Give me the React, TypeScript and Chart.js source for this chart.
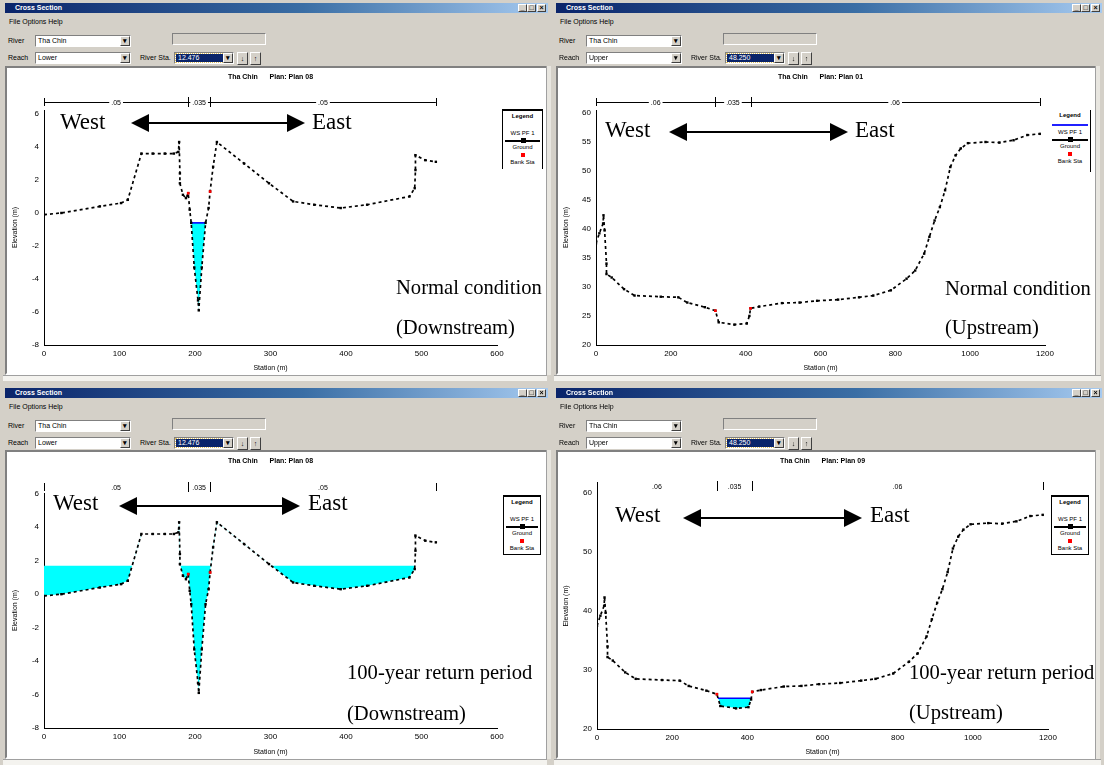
import React, { useEffect, useRef } from "react";
import { Chart, registerables } from "chart.js";

Chart.register(...registerables);

const FONT = '"Liberation Sans", Arial, sans-serif';
const SERIF = '"Liberation Serif", "Times New Roman", serif';

// ---------------- DATA ----------------
// Downstream cross-section: station (m) / elevation (m)
const downGroundStation = [0, 23, 74, 102, 111, 129, 144, 160, 172, 178, 179, 180, 180, 184, 188, 191, 193, 195, 199, 204, 205, 209, 214, 218, 220, 224, 229, 265, 298, 330, 358, 393, 428, 484, 491, 492, 492, 505, 519];
const downGroundElevation = [-0.1, 0.0, 0.4, 0.6, 0.8, 3.6, 3.6, 3.6, 3.6, 3.7, 4.3, 2.4, 1.8, 1.1, 0.9, 1.2, 0.2, -0.6, -3.3, -5.3, -5.9, -3.3, -0.6, 0.3, 1.3, 2.8, 4.3, 3.0, 1.8, 0.7, 0.5, 0.3, 0.5, 1.0, 1.5, 2.6, 3.5, 3.2, 3.1];
const downBankStation = [191, 220];
const downBankElevation = [1.2, 1.3];
const downNormalWsStation = [195, 214];
const downNormalWsElevation = [-0.6, -0.6];
const down100WsStation = [0, 491];
const down100WsElevation = [1.7, 1.7];
const downNStations = [0, 191, 220, 519];
const downNLabels = [".05", ".035", ".05"];

// Upstream cross-section
const upGroundStation = [0, 9, 19, 20, 23, 28, 28, 42, 75, 103, 173, 220, 244, 291, 319, 328, 370, 403, 410, 413, 436, 497, 544, 591, 647, 703, 741, 788, 830, 853, 877, 891, 905, 919, 933, 947, 961, 975, 994, 1041, 1078, 1116, 1153, 1186];
const upGroundElevation = [37.5, 39.2, 40.9, 42.3, 39.7, 34.0, 32.2, 31.6, 29.6, 28.5, 28.3, 28.2, 27.3, 26.5, 25.9, 23.9, 23.5, 23.7, 25.0, 26.3, 26.6, 27.2, 27.3, 27.6, 27.8, 28.2, 28.5, 29.4, 31.4, 32.8, 35.7, 38.6, 41.4, 43.7, 46.6, 50.6, 52.6, 53.8, 54.7, 54.9, 54.8, 55.2, 56.1, 56.3];
const upBankStation = [319, 413];
const upBankElevation = [25.9, 26.3];
const up100WsStation = [322, 410.5];
const up100WsElevation = [25.2, 25.2];
const upNStations = [0, 319, 413, 1186];
const upNLabels = [".06", ".035", ".06"];

// Tick settings
const downXTicks = { min: 0, max: 600, step: 100 };
const upXTicks = { min: 0, max: 1200, step: 200 };

// ---------------- PANELS ----------------
type Panel = any;

const panels: Panel[] = [
  {
    id: "tl",
    win: { x: 0, y: 0, w: 550, h: 381 },
    canvas: { x: 7, y: 68, w: 539, h: 305 },
    plot: { l: 44, r: 497, t: 110, b: 345 },
    xt: downXTicks, yt: { min: -8, max: 6.24, step: 2 },
    gs: downGroundStation, ge: downGroundElevation,
    bs: downBankStation, be: downBankElevation,
    ws: downNormalWsStation, we: downNormalWsElevation, wsLine: "#0000ff", wsWidth: 1.6,
    nb: { y: 102, bounds: downNStations, labels: downNLabels, line: true },
    xDash: [1, 5], yDash: [1, 5],
    title: "Tha Chin      Plan: Plan 08",
    river: "Tha Chin", reach: "Lower", sta: "12.476",
    west: { wx: 60, cy: 122, al: 131, ar: 305, ay: 123, ex: 312 },
    cond: { x: 396, lines: ["Normal condition", "(Downstream)"], ys: [287, 327] },
    legend: { x: 502, y: 109, w: 41, h: 60, blue: false, borders: "tlr" },
  },
  {
    id: "tr",
    win: { x: 551, y: 0, w: 553, h: 381 },
    canvas: { x: 558, y: 68, w: 537, h: 305 },
    plot: { l: 596, r: 1045, t: 110, b: 345 },
    xt: upXTicks, yt: { min: 20, max: 60.4, step: 5 },
    gs: upGroundStation, ge: upGroundElevation,
    bs: upBankStation, be: upBankElevation,
    ws: null, we: null,
    nb: { y: 102, bounds: upNStations, labels: upNLabels, line: true },
    xDash: [1, 5], yDash: [1, 5],
    title: "Tha Chin      Plan: Plan 01",
    river: "Tha Chin", reach: "Upper", sta: "48.250",
    west: { wx: 605, cy: 130, al: 669, ar: 848, ay: 132, ex: 855 },
    cond: { x: 945, lines: ["Normal condition", "(Upstream)"], ys: [288, 327] },
    legend: { x: 1050, y: 110, w: 41, h: 62, blue: true, borders: "r" },
  },
  {
    id: "bl",
    win: { x: 0, y: 385, w: 550, h: 380 },
    canvas: { x: 7, y: 452, w: 539, h: 305 },
    plot: { l: 44, r: 497, t: 493, b: 728 },
    xt: downXTicks, yt: { min: -8, max: 6.05, step: 2 },
    gs: downGroundStation, ge: downGroundElevation,
    bs: downBankStation, be: downBankElevation,
    ws: down100WsStation, we: down100WsElevation, wsLine: "rgba(0,0,0,0)", wsWidth: 0,
    nb: { y: 487, bounds: downNStations, labels: downNLabels, line: false },
    xDash: [], yDash: [1, 5],
    title: "Tha Chin      Plan: Plan 08",
    river: "Tha Chin", reach: "Lower", sta: "12.476",
    west: { wx: 53, cy: 503, al: 119, ar: 300, ay: 506, ex: 308 },
    cond: { x: 347, lines: ["100-year return period", "(Downstream)"], ys: [672, 713] },
    legend: { x: 503, y: 495, w: 38, h: 60, blue: false, borders: "tlrb" },
  },
  {
    id: "br",
    win: { x: 551, y: 385, w: 553, h: 380 },
    canvas: { x: 558, y: 452, w: 537, h: 305 },
    plot: { l: 597, r: 1048, t: 483, b: 729 },
    xt: upXTicks, yt: { min: 20, max: 61.7, step: 10 },
    gs: upGroundStation, ge: upGroundElevation,
    bs: upBankStation, be: upBankElevation,
    ws: up100WsStation, we: up100WsElevation, wsLine: "#0000ff", wsWidth: 1.6,
    nb: { y: 486, bounds: upNStations, labels: upNLabels, line: false },
    xDash: [], yDash: [],
    title: "Tha Chin      Plan: Plan 09",
    river: "Tha Chin", reach: "Upper", sta: "48.250",
    west: { wx: 615, cy: 515, al: 683, ar: 862, ay: 518, ex: 870 },
    cond: { x: 909, lines: ["100-year return period", "(Upstream)"], ys: [672, 712] },
    legend: { x: 1051, y: 495, w: 38, h: 60, blue: false, borders: "tlrb" },
  },
];

// ---------------- CHART ----------------
function pts(xs: number[], ys: number[]) {
  return xs.map((x, i) => ({ x, y: ys[i] }));
}

const nBarPlugin = {
  id: "nbar",
  afterDraw(chart: any, _args: any, opts: any) {
    const { ctx } = chart;
    const xs = chart.scales.x;
    const y = opts.y;
    const b: number[] = opts.bounds;
    ctx.save();
    ctx.strokeStyle = "#000";
    ctx.lineWidth = 1;
    if (opts.line) {
      ctx.beginPath();
      ctx.moveTo(xs.getPixelForValue(b[0]), y + 0.5);
      ctx.lineTo(xs.getPixelForValue(b[b.length - 1]), y + 0.5);
      ctx.stroke();
    }
    b.forEach((v, i) => {
      const px = Math.round(xs.getPixelForValue(v)) + 0.5;
      const h = i === 0 || i === b.length - 1 ? 4 : 5;
      ctx.beginPath();
      ctx.moveTo(px, y - h);
      ctx.lineTo(px, y + h);
      ctx.stroke();
    });
    ctx.font = "7px " + FONT;
    ctx.textAlign = "center";
    ctx.textBaseline = "middle";
    (opts.labels as string[]).forEach((l, i) => {
      const px = (xs.getPixelForValue(b[i]) + xs.getPixelForValue(b[i + 1])) / 2;
      const w = ctx.measureText(l).width + 4;
      if (opts.line) {
        ctx.fillStyle = "#fff";
        ctx.fillRect(px - w / 2, y - 4, w, 9);
      }
      ctx.fillStyle = "#000";
      ctx.fillText(l, px, y + 1);
    });
    ctx.restore();
  },
};

function buildConfig(p: Panel): any {
  const c = p.canvas;
  const pl = p.plot;
  const padTop = pl.t - c.y;
  const padRight = c.x + c.w - pl.r;
  const yWidth = pl.l - c.x;
  const xHeight = c.y + c.h - pl.b;

  const datasets: any[] = [
    {
      label: "Ground",
      data: pts(p.gs, p.ge),
      borderColor: "#000",
      backgroundColor: "#000",
      borderWidth: 1.7,
      borderDash: [3, 3],
      pointRadius: 1.7,
      pointStyle: "rect",
      pointBackgroundColor: "#000",
      pointBorderColor: "#000",
      pointBorderWidth: 0,
      fill: false,
      tension: 0,
      order: 1,
    },
    {
      label: "Bank Sta",
      data: pts(p.bs, p.be),
      showLine: false,
      pointRadius: 1.9,
      pointStyle: "rect",
      pointBackgroundColor: "#ff0000",
      pointBorderColor: "#ff0000",
      pointBorderWidth: 0,
      order: 0,
    },
  ];
  if (p.ws) {
    datasets.push({
      label: "WS PF 1",
      data: pts(p.ws, p.we),
      borderColor: p.wsLine,
      borderWidth: p.wsWidth,
      pointRadius: 0,
      tension: 0,
      fill: { target: 0, above: "#00ffff", below: "rgba(0,0,0,0)" },
      order: 2,
    });
  }

  const tickFont = { size: 8, family: FONT };
  const titleFont = { size: 7, family: FONT };

  return {
    type: "line",
    data: { datasets },
    plugins: [nBarPlugin],
    options: {
      responsive: false,
      animation: false,
      events: [],
      layout: { padding: { left: 0, top: padTop, right: padRight, bottom: 0 } },
      plugins: {
        legend: { display: false },
        tooltip: { enabled: false },
        nbar: { y: p.nb.y - c.y, bounds: p.nb.bounds, labels: p.nb.labels, line: p.nb.line },
      },
      scales: {
        x: {
          type: "linear",
          min: p.xt.min,
          max: p.xt.max,
          grid: { display: false, drawTicks: false },
          border: { display: true, color: "#000", width: 1, dash: p.xDash },
          ticks: { stepSize: p.xt.step, font: tickFont, color: "#000", padding: 4, maxRotation: 0, includeBounds: false, callback: (v: any) => String(v) },
          title: { display: true, text: "Station (m)", font: titleFont, color: "#000", padding: { top: 0, bottom: 1 } },
          afterFit: (s: any) => {
            s.height = xHeight;
            s.paddingLeft = 0;
            s.paddingRight = 0;
          },
        },
        y: {
          type: "linear",
          min: p.yt.min,
          max: p.yt.max,
          grid: { display: false, drawTicks: false },
          border: { display: true, color: "#000", width: 1, dash: p.yDash },
          ticks: { stepSize: p.yt.step, font: tickFont, color: "#000", padding: 5, includeBounds: false, callback: (v: any) => String(v) },
          title: { display: true, text: "Elevation (m)", font: titleFont, color: "#000", padding: { top: 4, bottom: 0 } },
          afterFit: (s: any) => {
            s.width = yWidth;
            s.paddingTop = 0;
            s.paddingBottom = 0;
          },
        },
      },
    },
  };
}

function ChartCanvas({ p }: { p: Panel }) {
  const ref = useRef<HTMLCanvasElement>(null);
  useEffect(() => {
    const chart = new Chart(ref.current as HTMLCanvasElement, buildConfig(p));
    return () => chart.destroy();
  }, []);
  return (
    <canvas
      ref={ref}
      width={p.canvas.w}
      height={p.canvas.h}
      style={{ position: "absolute", left: p.canvas.x, top: p.canvas.y, width: p.canvas.w, height: p.canvas.h, background: "#fff" }}
    />
  );
}

// ---------------- CHROME ----------------
function Txt({ x, y, s, size = 7, bold = false, color = "#000" }: any) {
  return (
    <div style={{ position: "absolute", left: x, top: y, fontSize: size, lineHeight: size + 1 + "px", fontFamily: FONT, fontWeight: bold ? 700 : 400, color, whiteSpace: "nowrap" }}>
      {s}
    </div>
  );
}

function Sunken({ x, y, w, h, bg = "#fff", children }: any) {
  return (
    <div
      style={{
        position: "absolute", left: x, top: y, width: w, height: h, boxSizing: "border-box", background: bg,
        borderTop: "1px solid #808080", borderLeft: "1px solid #808080", borderRight: "1px solid #fff", borderBottom: "1px solid #fff",
        overflow: "hidden",
      }}
    >
      {children}
    </div>
  );
}

function Btn({ x, y, w, h, s }: any) {
  return (
    <div
      style={{
        position: "absolute", left: x, top: y, width: w, height: h, boxSizing: "border-box", background: "#d4d0c8",
        borderTop: "1px solid #fff", borderLeft: "1px solid #fff", borderRight: "1px solid #404040", borderBottom: "1px solid #404040",
        fontSize: 7, lineHeight: h - 2 + "px", textAlign: "center", fontFamily: FONT, fontWeight: 700, color: "#000", overflow: "hidden",
      }}
    >
      {s}
    </div>
  );
}

function Dropdown({ x, y, w, value }: any) {
  return (
    <Sunken x={x} y={y} w={w} h={12}>
      <div style={{ position: "absolute", left: 2, top: 1, fontSize: 7, lineHeight: "8px", fontFamily: FONT, whiteSpace: "nowrap" }}>{value}</div>
      <Btn x={w - 12} y={0} w={10} h={10} s="▾" />
    </Sunken>
  );
}

function WindowChrome({ p }: { p: Panel }) {
  const { x, y, w } = p.win;
  const c = p.canvas;
  return (
    <>
      <div style={{ position: "absolute", left: x + 5, top: y + 3, width: w - 7, height: 10, background: "linear-gradient(90deg, #0a246a 0%, #3a6ea5 55%, #a6caf0 100%)" }}>
        <div style={{ position: "absolute", left: 10, top: 1, fontSize: 7, lineHeight: "8px", fontFamily: FONT, fontWeight: 700, color: "#fff" }}>Cross Section</div>
        <Btn x={w - 37} y={1} w={9} h={8} s="_" />
        <Btn x={w - 28} y={1} w={9} h={8} s="□" />
        <Btn x={w - 18} y={1} w={9} h={8} s="×" />
      </div>
      <Txt x={x + 9} y={y + 18} s="File  Options  Help" />
      <Txt x={x + 8} y={y + 37} s="River" />
      <Dropdown x={x + 35} y={y + 35} w={96} value={p.river} />
      <Sunken x={x + 172} y={y + 33} w={94} h={12} bg="#d4d0c8" />
      <Txt x={x + 8} y={y + 54} s="Reach" />
      <Dropdown x={x + 35} y={y + 52} w={96} value={p.reach} />
      <Txt x={x + 140} y={y + 54} s="River Sta." />
      <Sunken x={x + 174} y={y + 52} w={60} h={12}>
        <div style={{ position: "absolute", left: 1, top: 1, width: 46, height: 8, background: "#0a246a", outline: "1px dotted #e0c060", color: "#fff", fontSize: 7, lineHeight: "8px", fontFamily: FONT, paddingLeft: 2 }}>
          {p.sta}
        </div>
        <Btn x={48} y={0} w={10} h={10} s="▾" />
      </Sunken>
      <Btn x={x + 237} y={y + 52} w={11} h={13} s="↓" />
      <Btn x={x + 250} y={y + 52} w={11} h={13} s="↑" />
      {/* white plot area frame */}
      <div style={{ position: "absolute", left: c.x - 2, top: c.y - 2, width: c.w + 4, height: c.h + 4, boxSizing: "border-box", borderTop: "2px solid #808080", borderLeft: "2px solid #808080", borderRight: "2px solid #fff", borderBottom: "2px solid #fff", background: "#fff" }} />
      {/* right scrollbar */}
      <div style={{ position: "absolute", left: c.x + c.w, top: c.y - 2, width: 5, height: c.h + 4, background: "#e8e6e0", borderLeft: "1px solid #a0a0a0", boxSizing: "border-box" }} />
      {/* bottom scrollbar */}
      <div style={{ position: "absolute", left: x + 3, top: c.y + c.h + 2, width: w - 6, height: 6, background: "#f4f3ef", borderTop: "1px solid #a0a0a0", boxSizing: "border-box" }} />
    </>
  );
}

function Arrow({ l, r, cy }: any) {
  const w = r - l;
  const hl = 18;
  return (
    <svg style={{ position: "absolute", left: l, top: cy - 10 }} width={w} height={20}>
      <line x1={hl - 1} y1={10} x2={w - hl + 1} y2={10} stroke="#000" strokeWidth={2} />
      <polygon points={`0,10 ${hl},1 ${hl},19`} fill="#000" />
      <polygon points={`${w},10 ${w - hl},1 ${w - hl},19`} fill="#000" />
    </svg>
  );
}

function SerifText({ x, cy, s, size }: any) {
  return (
    <div style={{ position: "absolute", left: x, top: cy - Math.round(size / 2) - 1, fontFamily: SERIF, fontSize: size, lineHeight: Math.round(size + 2) + "px", color: "#000", whiteSpace: "nowrap" }}>
      {s}
    </div>
  );
}

function LegendBox({ L }: any) {
  const b = L.borders as string;
  const line = "1.5px solid #000";
  return (
    <div
      style={{
        position: "absolute", left: L.x, top: L.y, width: L.w, height: L.h, boxSizing: "border-box", background: "#fff",
        borderTop: b.includes("t") ? "2px solid #000" : "none",
        borderLeft: b.includes("l") ? line : "none",
        borderRight: b.includes("r") ? line : "none",
        borderBottom: b.includes("b") ? line : "none",
        fontFamily: FONT, fontSize: 6, lineHeight: "7px", color: "#000",
      }}
    >
      <div style={{ position: "absolute", left: 0, width: "100%", top: 2, textAlign: "center", fontWeight: 700 }}>Legend</div>
      {L.blue && <div style={{ position: "absolute", left: 2, right: 2, top: 14, height: 2, background: "#2020ff" }} />}
      <div style={{ position: "absolute", left: 0, width: "100%", top: 19, textAlign: "center" }}>WS PF 1</div>
      <div style={{ position: "absolute", left: 2, right: 2, top: 29, height: 1.5, background: "#000" }} />
      <div style={{ position: "absolute", left: "50%", marginLeft: -2, top: 27, width: 5, height: 5, background: "#000" }} />
      <div style={{ position: "absolute", left: 0, width: "100%", top: 33, textAlign: "center" }}>Ground</div>
      <div style={{ position: "absolute", left: "50%", marginLeft: -2, top: 42, width: 4, height: 4, background: "#ff0000" }} />
      <div style={{ position: "absolute", left: 0, width: "100%", top: 48, textAlign: "center" }}>Bank Sta</div>
    </div>
  );
}

function PanelView({ p }: { p: Panel }) {
  const cx = (p.plot.l + p.plot.r) / 2;
  return (
    <>
      <WindowChrome p={p} />
      <ChartCanvas p={p} />
      <div style={{ position: "absolute", left: cx - 100, width: 200, top: p.canvas.y + 5, textAlign: "center", fontFamily: FONT, fontSize: 7, lineHeight: "8px", fontWeight: 700, color: "#000", whiteSpace: "pre" }}>
        {p.title}
      </div>
      <LegendBox L={p.legend} />
      <SerifText x={p.west.wx} cy={p.west.cy} s="West" size={23} />
      <Arrow l={p.west.al} r={p.west.ar} cy={p.west.ay} />
      <SerifText x={p.west.ex} cy={p.west.cy} s="East" size={23} />
      <SerifText x={p.cond.x} cy={p.cond.ys[0]} s={p.cond.lines[0]} size={20.6} />
      <SerifText x={p.cond.x} cy={p.cond.ys[1]} s={p.cond.lines[1]} size={20.6} />
    </>
  );
}

export default function App() {
  return (
    <div style={{ position: "fixed", left: 0, top: 0, width: 1104, height: 765, background: "#d4d0c8", overflow: "hidden" }}>
      {panels.map((p) => (
        <PanelView key={p.id} p={p} />
      ))}
    </div>
  );
}
